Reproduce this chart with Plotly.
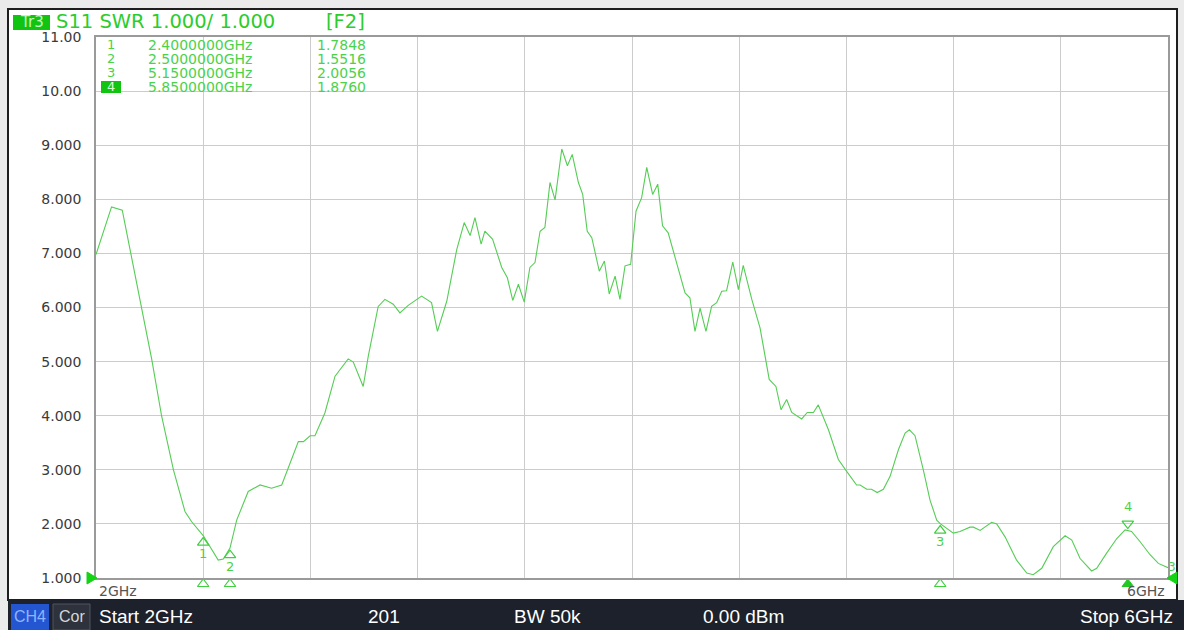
import plotly.graph_objects as go

# ---------------- data ----------------
freq_ghz = [2.000, 2.058, 2.098, 2.127, 2.164, 2.208, 2.245, 2.289, 2.332, 2.357,
            2.400, 2.456, 2.475, 2.500, 2.525, 2.568, 2.612, 2.655, 2.693, 2.724,
            2.755, 2.774, 2.799, 2.817, 2.854, 2.892, 2.941, 2.960, 2.997, 3.016,
            3.053, 3.078, 3.109, 3.134, 3.165, 3.215, 3.252, 3.274, 3.309, 3.346,
            3.374, 3.396, 3.414, 3.437, 3.451, 3.480, 3.514, 3.535, 3.555, 3.576,
            3.598, 3.619, 3.638, 3.657, 3.675, 3.694, 3.713, 3.738, 3.759, 3.777,
            3.800, 3.816, 3.833, 3.850, 3.878, 3.897, 3.915, 3.937, 3.955, 3.974,
            3.995, 4.015, 4.036, 4.055, 4.077, 4.096, 4.114, 4.135, 4.167, 4.198,
            4.216, 4.235, 4.254, 4.276, 4.297, 4.316, 4.335, 4.353, 4.376, 4.397,
            4.415, 4.447, 4.478, 4.512, 4.537, 4.556, 4.577, 4.596, 4.633, 4.654,
            4.677, 4.695, 4.733, 4.770, 4.801, 4.838, 4.851, 4.876, 4.894, 4.915,
            4.938, 4.963, 4.994, 5.019, 5.035, 5.056, 5.087, 5.112, 5.137, 5.150,
            5.199, 5.224, 5.261, 5.274, 5.299, 5.317, 5.342, 5.361, 5.392, 5.435,
            5.473, 5.497, 5.529, 5.572, 5.616, 5.641, 5.672, 5.715, 5.734, 5.771,
            5.809, 5.840, 5.850, 5.864, 5.896, 5.933, 5.964, 6.000]
swr = [6.98, 7.86, 7.80, 7.07, 6.15, 5.04, 3.99, 3.00, 2.23, 2.04,
       1.7848, 1.33, 1.35, 1.5516, 2.07, 2.60, 2.72, 2.66, 2.72, 3.12,
       3.52, 3.52, 3.63, 3.63, 4.05, 4.73, 5.05, 4.99, 4.54, 5.10,
       6.02, 6.15, 6.06, 5.90, 6.04, 6.21, 6.09, 5.56, 6.12, 7.07,
       7.57, 7.33, 7.66, 7.17, 7.41, 7.26, 6.74, 6.55, 6.13, 6.43,
       6.10, 6.74, 6.83, 7.41, 7.48, 8.31, 7.99, 8.93, 8.62, 8.83,
       8.31, 8.09, 7.41, 7.29, 6.67, 6.86, 6.25, 6.58, 6.15, 6.77,
       6.80, 7.78, 8.03, 8.59, 8.09, 8.28, 7.51, 7.38, 6.83, 6.27,
       6.18, 5.56, 5.99, 5.56, 6.02, 6.09, 6.30, 6.31, 6.84, 6.33,
       6.78, 6.15, 5.62, 4.67, 4.54, 4.11, 4.30, 4.06, 3.94, 4.06,
       4.06, 4.20, 3.74, 3.19, 2.97, 2.72, 2.72, 2.64, 2.64, 2.58,
       2.64, 2.88, 3.37, 3.68, 3.74, 3.63, 3.00, 2.44, 2.07, 2.0056,
       1.83, 1.86, 1.94, 1.94, 1.88, 1.94, 2.03, 2.00, 1.76, 1.33,
       1.09, 1.06, 1.18, 1.58, 1.78, 1.70, 1.36, 1.13, 1.18, 1.46,
       1.73, 1.89, 1.876, 1.86, 1.67, 1.43, 1.27, 1.19]

marker_ids = ["1", "2", "3", "4"]
marker_freq = [2.40, 2.50, 5.15, 5.85]
marker_val = [1.7848, 1.5516, 2.0056, 1.8760]
marker_freq_txt = ["2.4000000GHz", "2.5000000GHz", "5.1500000GHz", "5.8500000GHz"]
marker_val_txt = ["1.7848", "1.5516", "2.0056", "1.8760"]

y_ticks = [1, 2, 3, 4, 5, 6, 7, 8, 9, 10, 11]
y_tick_text = ["1.000", "2.000", "3.000", "4.000", "5.000", "6.000", "7.000",
               "8.000", "9.000", "10.00", "11.00"]
x_grid = [2.0, 2.4, 2.8, 3.2, 3.6, 4.0, 4.4, 4.8, 5.2, 5.6, 6.0]

# ---------------- geometry helpers (pixel -> paper) ----------------
W, H = 1184, 630
L, R, T, B = 96, 1168, 37, 578


def PX(x):
    return (x - L) / (R - L)


def PY(y):
    return (B - y) / (B - T)


GREEN = "#3fcf3f"
TXT_GREEN = "#4bd24b"
TICK = "#3a3a3a"

fig = go.Figure()

fig.add_trace(go.Scatter(x=freq_ghz, y=swr, mode="lines",
                         line=dict(color="#55cd55", width=1.1),
                         hoverinfo="skip", showlegend=False))

# markers 1-3 on the trace (open up-triangles under the point)
fig.add_trace(go.Scatter(x=marker_freq[:3], y=marker_val[:3], mode="markers",
                         marker=dict(symbol="triangle-up-open", size=10, color=GREEN,
                                     line=dict(width=1.2, color=GREEN),
                                     angle=0, standoff=7),
                         cliponaxis=False, showlegend=False, hoverinfo="skip"))
# marker 4 (down-triangle above the point)
fig.add_trace(go.Scatter(x=marker_freq[3:], y=marker_val[3:], mode="markers",
                         marker=dict(symbol="triangle-up-open", size=10, color=GREEN,
                                     line=dict(width=1.2, color=GREEN),
                                     angle=180, standoff=7),
                         cliponaxis=False, showlegend=False, hoverinfo="skip"))
# markers on the x axis
fig.add_trace(go.Scatter(x=marker_freq[:3], y=[1, 1, 1], mode="markers",
                         marker=dict(symbol="triangle-up-open", size=10, color=GREEN,
                                     line=dict(width=1.2, color=GREEN),
                                     angle=0, standoff=6),
                         cliponaxis=False, showlegend=False, hoverinfo="skip"))
fig.add_trace(go.Scatter(x=marker_freq[3:], y=[1], mode="markers",
                         marker=dict(symbol="triangle-up", size=10, color="#22c822",
                                     line=dict(width=1, color="#22c822"),
                                     angle=0, standoff=6),
                         cliponaxis=False, showlegend=False, hoverinfo="skip"))

annotations = []
# marker number labels
for i in range(3):
    annotations.append(dict(x=marker_freq[i], y=marker_val[i], xref="x", yref="y",
                            text=marker_ids[i], showarrow=False, yshift=-18,
                            font=dict(family="DejaVu Sans", size=13, color=TXT_GREEN)))
annotations.append(dict(x=marker_freq[3], y=marker_val[3], xref="x", yref="y",
                        text=marker_ids[3], showarrow=False, yshift=24,
                        font=dict(family="DejaVu Sans", size=13, color=TXT_GREEN)))

# marker table
row_y = [45, 59, 73, 87]
for i in range(4):
    annotations.append(dict(x=PX(111), y=PY(row_y[i]), xref="paper", yref="paper",
                            text=marker_ids[i], showarrow=False, xanchor="center",
                            yanchor="middle",
                            font=dict(family="DejaVu Sans", size=13,
                                      color="#d8ffd8" if i == 3 else TXT_GREEN)))
    annotations.append(dict(x=PX(146), y=PY(row_y[i]), xref="paper", yref="paper",
                            text=marker_freq_txt[i], showarrow=False, xanchor="left",
                            yanchor="middle",
                            font=dict(family="DejaVu Sans", size=14, color=TXT_GREEN)))
    annotations.append(dict(x=PX(315), y=PY(row_y[i]), xref="paper", yref="paper",
                            text=marker_val_txt[i], showarrow=False, xanchor="left",
                            yanchor="middle",
                            font=dict(family="DejaVu Sans", size=14, color=TXT_GREEN)))

# title line
annotations.append(dict(x=PX(31.5), y=PY(22.5), xref="paper", yref="paper", text="Tr3",
                        showarrow=False, xanchor="center", yanchor="middle",
                        font=dict(family="DejaVu Sans", size=15, color="#c4f7c4")))
annotations.append(dict(x=PX(54), y=PY(21), xref="paper", yref="paper",
                        text="S11 SWR 1.000/ 1.000", showarrow=False, xanchor="left",
                        yanchor="middle",
                        font=dict(family="DejaVu Sans", size=19.5, color="#2ccc2c")))
annotations.append(dict(x=PX(324), y=PY(21), xref="paper", yref="paper",
                        text="[F2]", showarrow=False, xanchor="left", yanchor="middle",
                        font=dict(family="DejaVu Sans", size=19.5, color="#2ccc2c")))

# x labels
annotations.append(dict(x=PX(97), y=PY(591), xref="paper", yref="paper", text="2GHz",
                        showarrow=False, xanchor="left", yanchor="middle",
                        font=dict(family="DejaVu Sans", size=14, color="#555555")))
annotations.append(dict(x=PX(1167), y=PY(591), xref="paper", yref="paper", text="6GHz",
                        showarrow=False, xanchor="right", yanchor="middle",
                        font=dict(family="DejaVu Sans", size=14, color="#555555")))
# right edge small "3"
annotations.append(dict(x=PX(1172), y=PY(567), xref="paper", yref="paper", text="3",
                        showarrow=False, xanchor="center", yanchor="middle",
                        font=dict(family="DejaVu Sans", size=12, color=TXT_GREEN)))

# bottom status bar texts
bar_y = PY(616)
status = [("CH4", 30, "center", "#8fb4ff", 16), ("Cor", 71.5, "center", "#d6d6d6", 16),
          ("Start 2GHz", 97, "left", "#ffffff", 19), ("201", 366, "left", "#ffffff", 19),
          ("BW 50k", 512, "left", "#ffffff", 19), ("0.00 dBm", 701, "left", "#ffffff", 19),
          ("Stop 6GHz", 1175, "right", "#ffffff", 19)]
for txt, xx, anc, col, sz in status:
    annotations.append(dict(x=PX(xx), y=bar_y, xref="paper", yref="paper", text=txt,
                            showarrow=False, xanchor=anc, yanchor="middle",
                            font=dict(family="Liberation Sans, Arial", size=sz, color=col)))

shapes = [
    # outer instrument frame
    dict(type="rect", xref="paper", yref="paper", x0=PX(8), x1=PX(1177), y0=PY(600),
         y1=PY(9), fillcolor="white", line=dict(color="#1e1e1e", width=2), layer="below"),
    # status bar
    dict(type="rect", xref="paper", yref="paper", x0=PX(8), x1=PX(1184), y0=PY(630),
         y1=PY(600), fillcolor="#1c212b", line=dict(width=0), layer="above"),
    dict(type="rect", xref="paper", yref="paper", x0=PX(11), x1=PX(49), y0=PY(630),
         y1=PY(604), fillcolor="#2456d2", line=dict(width=0), layer="above"),
    dict(type="rect", xref="paper", yref="paper", x0=PX(53), x1=PX(90), y0=PY(630),
         y1=PY(604), fillcolor="#2d323c", line=dict(color="#50555f", width=1),
         layer="above"),
    # Tr3 box
    dict(type="rect", xref="paper", yref="paper", x0=PX(13), x1=PX(50), y0=PY(30),
         y1=PY(15), fillcolor="#12c412", line=dict(width=0), layer="below"),
    # active marker-4 box in the table
    dict(type="rect", xref="paper", yref="paper", x0=PX(101), x1=PX(121), y0=PY(93),
         y1=PY(81), fillcolor="#12c412", line=dict(width=0), layer="above"),
    # reference-level triangle (left) and right-edge triangle
    dict(type="path", xref="paper", yref="paper",
         path=f"M {PX(87)} {PY(572)} L {PX(97)} {PY(578)} L {PX(87)} {PY(584)} Z",
         fillcolor="#14d214", line=dict(color="#14d214", width=1), layer="above"),
    dict(type="path", xref="paper", yref="paper",
         path=f"M {PX(1177)} {PY(572)} L {PX(1167)} {PY(578)} L {PX(1177)} {PY(584)} Z",
         fillcolor="#14d214", line=dict(color="#14d214", width=1), layer="above"),
]

fig.update_layout(
    width=W, height=H,
    margin=dict(l=L, r=W - R, t=T, b=H - B, pad=0),
    paper_bgcolor="#ebebeb", plot_bgcolor="white",
    showlegend=False,
    xaxis=dict(range=[2, 6], tickvals=x_grid, showticklabels=False, ticks="",
               showgrid=True, gridcolor="#cccccc", gridwidth=1, zeroline=False,
               showline=True, linecolor="#9a9a9a", linewidth=1.5, mirror=True,
               fixedrange=True),
    yaxis=dict(range=[1, 11], tickvals=y_ticks, ticktext=y_tick_text, ticks="",
               ticklabelstandoff=10,
               tickfont=dict(family="DejaVu Sans", size=14, color=TICK),
               showgrid=True, gridcolor="#cccccc", gridwidth=1, zeroline=False,
               showline=True, linecolor="#9a9a9a", linewidth=1.5, mirror=True,
               fixedrange=True),
    annotations=annotations,
    shapes=shapes,
)

fig.write_html("out.html", config={"displayModeBar": False},
               post_script="document.body.style.margin='0';document.body.style.padding='0';")
